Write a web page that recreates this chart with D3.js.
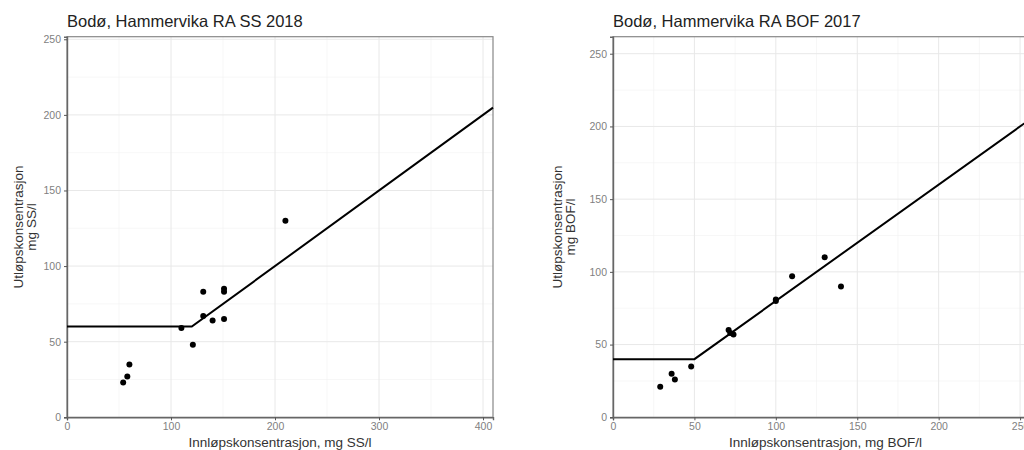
<!DOCTYPE html>
<html>
<head>
<meta charset="utf-8">
<script src="https://cdn.jsdelivr.net/npm/d3@7"></script>
<style>
  body { margin: 0; background: #fff; }
  svg { display: block; font-family: "Liberation Sans", Arial, sans-serif; }
</style>
</head>
<body>
<div id="chart"></div>
<script>
// SS 2018 data (inflow, outflow)
var ssInn = [54, 58, 60, 110, 121, 131, 131, 140, 151, 151, 151, 210];
var ssUt  = [23, 27, 35, 59, 48, 83, 67, 64, 85, 83, 65, 130];
// requirement line breakpoints
var ssLineX = [0, 120, 409.6];
var ssLineY = [60, 60, 204.8];

// BOF 2017 data
var bofInn = [29, 36, 38, 48, 71, 72, 74, 100, 100, 110, 130, 140];
var bofUt  = [21, 30, 26, 35, 60, 58, 57, 81, 80, 97, 110, 90];
var bofLineX = [0, 50, 261];
var bofLineY = [40, 40, 208.8];

var ssTicksX = [0, 100, 200, 300, 400];
var ssTicksY = [0, 50, 100, 150, 200, 250];
var bofTicksX = [0, 50, 100, 150, 200, 250];
var bofTicksY = [0, 50, 100, 150, 200, 250];

var svg = d3.select("#chart")
    .append("svg")
    .attr("width", 1024)
    .attr("height", 450);

function drawPanel(opt) {
    var x = d3.scaleLinear().domain(opt.xDomain).range([opt.left, opt.right]);
    var y = d3.scaleLinear().domain(opt.yDomain).range([opt.bottom, opt.top]);
    var g = svg.append("g");

    // minor grid
    var minorX = opt.ticksX.slice(0, -1).map((d, i) => (d + opt.ticksX[i + 1]) / 2);
    minorX.push(opt.ticksX[opt.ticksX.length - 1] + (opt.ticksX[1] - opt.ticksX[0]) / 2);
    var minorY = opt.ticksY.slice(0, -1).map((d, i) => (d + opt.ticksY[i + 1]) / 2);
    minorX = minorX.filter(d => d <= opt.xDomain[1]);

    g.selectAll("line.minx").data(minorX).enter().append("line")
        .attr("x1", d => x(d)).attr("x2", d => x(d))
        .attr("y1", opt.top).attr("y2", opt.bottom)
        .attr("stroke", "#f2f2f2").attr("stroke-width", 0.6);
    g.selectAll("line.miny").data(minorY).enter().append("line")
        .attr("y1", d => y(d)).attr("y2", d => y(d))
        .attr("x1", opt.left).attr("x2", opt.right)
        .attr("stroke", "#f2f2f2").attr("stroke-width", 0.6);
    g.selectAll("line.majx").data(opt.ticksX).enter().append("line")
        .attr("x1", d => x(d)).attr("x2", d => x(d))
        .attr("y1", opt.top).attr("y2", opt.bottom)
        .attr("stroke", "#e8e8e8").attr("stroke-width", 1);
    g.selectAll("line.majy").data(opt.ticksY).enter().append("line")
        .attr("y1", d => y(d)).attr("y2", d => y(d))
        .attr("x1", opt.left).attr("x2", opt.right)
        .attr("stroke", "#e8e8e8").attr("stroke-width", 1);

    // border
    g.append("rect")
        .attr("x", opt.left).attr("y", opt.top)
        .attr("width", opt.right - opt.left).attr("height", opt.bottom - opt.top)
        .attr("fill", "none").attr("stroke", "#888").attr("stroke-width", 1.2);

    // axes
    var xAxis = g.append("g")
        .attr("transform", `translate(0,${opt.bottom})`)
        .call(d3.axisBottom(x).tickValues(opt.ticksX).tickSize(3).tickPadding(2));
    var yAxis = g.append("g")
        .attr("transform", `translate(${opt.left},0)`)
        .call(d3.axisLeft(y).tickValues(opt.ticksY).tickSize(3).tickPadding(3));
    [xAxis, yAxis].forEach(function(a) {
        a.select(".domain").attr("stroke", "#666").attr("stroke-width", 1.4);
        a.selectAll(".tick line").attr("stroke", "#555");
        a.selectAll(".tick text").attr("fill", "#7f7f7f").style("font-size", "10.5px");
    });

    // requirement line
    var lineData = opt.lineX.map((d, i) => [d, opt.lineY[i]]);
    g.append("path")
        .datum(lineData)
        .attr("d", d3.line().x(d => x(d[0])).y(d => y(d[1])))
        .attr("fill", "none").attr("stroke", "#000").attr("stroke-width", 2);

    // points
    g.selectAll("circle").data(opt.inn).enter().append("circle")
        .attr("cx", d => x(d))
        .attr("cy", (d, i) => y(opt.ut[i]))
        .attr("r", 3)
        .attr("fill", "#000");

    // title
    g.append("text")
        .attr("x", opt.left).attr("y", 27)
        .style("font-size", "16.5px").attr("fill", "#222")
        .text(opt.title);

    // x label
    g.append("text")
        .attr("x", (opt.left + opt.xLabelRight) / 2).attr("y", 447)
        .attr("text-anchor", "middle")
        .style("font-size", "13.5px").attr("fill", "#333")
        .text(opt.xLabel);

    // y label, two lines
    var cy = (opt.top + opt.bottom) / 2;
    opt.yLabel.forEach(function(t, i) {
        g.append("text")
            .attr("transform", `translate(${opt.yLabelX + i * 13},${cy}) rotate(-90)`)
            .attr("text-anchor", "middle")
            .style("font-size", "13.5px").attr("fill", "#333")
            .text(t);
    });
}

drawPanel({
    xDomain: [0, 409.6], yDomain: [0, 251.7],
    left: 67, right: 493, top: 36.7, bottom: 417.3,
    ticksX: ssTicksX, ticksY: ssTicksY,
    inn: ssInn, ut: ssUt, lineX: ssLineX, lineY: ssLineY,
    title: "Bodø, Hammervika RA SS 2018",
    xLabel: "Innløpskonsentrasjon, mg SS/l", xLabelRight: 493,
    yLabel: ["Utløpskonsentrasjon", "mg SS/l"], yLabelX: 23
});

drawPanel({
    xDomain: [0, 261], yDomain: [0, 261.7],
    left: 613, right: 1038, top: 36.7, bottom: 417.3,
    ticksX: bofTicksX, ticksY: bofTicksY,
    inn: bofInn, ut: bofUt, lineX: bofLineX, lineY: bofLineY,
    title: "Bodø, Hammervika RA BOF 2017",
    xLabel: "Innløpskonsentrasjon, mg BOF/l", xLabelRight: 1038,
    yLabel: ["Utløpskonsentrasjon", "mg BOF/l"], yLabelX: 562
});
</script>
</body>
</html>
